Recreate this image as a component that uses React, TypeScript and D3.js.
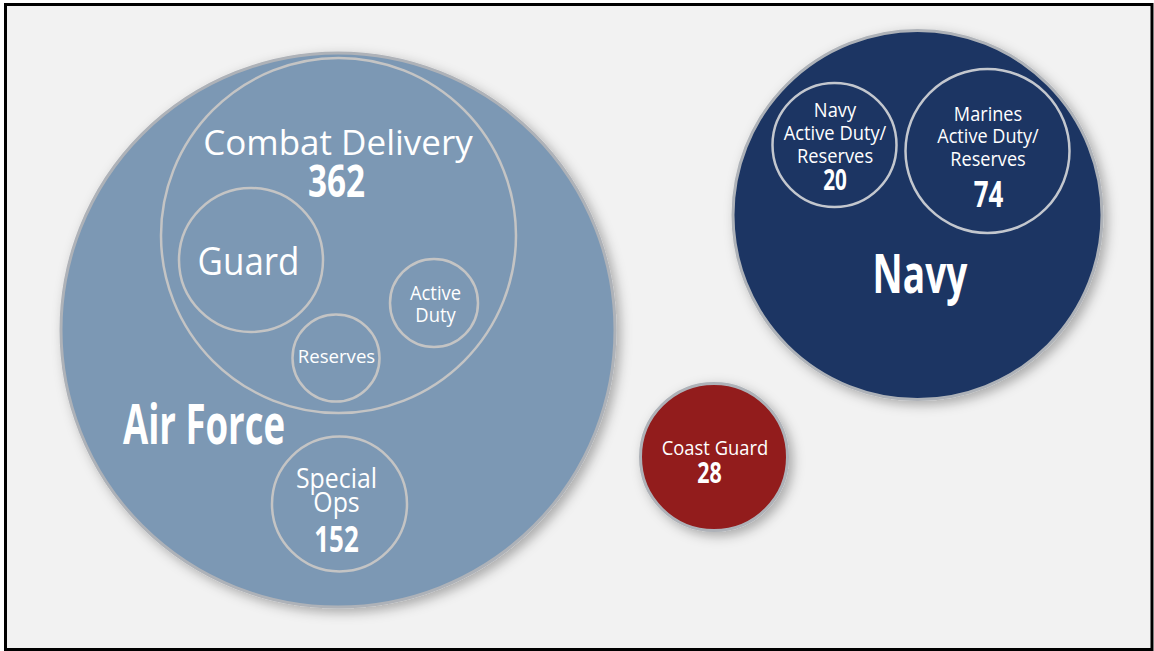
import React from 'react'
import * as d3 from 'd3'

// nodes of the graphic (parents come before their children)
const nodeNames = ['Air Force', 'Combat Delivery', 'Guard', 'Active Duty', 'Reserves', 'Special Ops',
  'Navy', 'Navy Active Duty/Reserves', 'Marines Active Duty/Reserves', 'Coast Guard']
const nodeParents = [null, 'Air Force', 'Combat Delivery', 'Combat Delivery', 'Combat Delivery', 'Air Force',
  null, 'Navy', 'Navy', null]
const nodeValues = [null, 362, null, null, null, 152, null, 20, 74, 28]
const nodeLines = [['Air Force'], ['Combat Delivery'], ['Guard'], ['Active', 'Duty'], ['Reserves'], ['Special', 'Ops'],
  ['Navy'], ['Navy', 'Active Duty/', 'Reserves'], ['Marines', 'Active Duty/', 'Reserves'], ['Coast Guard']]
const nodeBoldLabel = [true, false, false, false, false, false, true, false, false, false]

const serviceNames = ['Air Force', 'Navy', 'Coast Guard']
const serviceColors = ['#7c98b4', '#1b3563', '#921c1d']

// layout, in units of the original 1154 x 651 artwork
const circleX = [338, 338.5, 251, 434, 336, 339.5, 917.5, 834.5, 987.5, 714]
const circleY = [330, 235.5, 260, 303, 358, 504, 215, 145, 151, 457]
const circleR = [277, 177.5, 72, 44, 43.5, 67.5, 184.5, 62, 82, 73.5]
const labelX = [204, 338, 248.5, 435.5, 336.5, 336.5, 920, 835, 988, 715]
const labelY = [444, 155, 275, 300, 363, 488, 293, 117, 121, 455]
const labelSize = [55, 34, 38, 20, 19, 27, 53, 19.5, 19.5, 20]
const labelStretch = [0.665, 1.03, 0.92, 0.92, 0.98, 0.92, 0.7, 0.94, 0.93, 0.92]
const labelLead = [0, 0, 0, 22, 0, 24, 0, 23, 22.5, 0]
const valueX = [0, 336.5, 0, 0, 0, 336.5, 0, 835, 988.5, 709.5]
const valueY = [0, 197, 0, 0, 0, 552, 0, 190, 207, 483]
const valueSize = [0, 45, 0, 0, 0, 35, 0, 28, 35, 29]

const W = 1154
const H = 651
const FONT = "'Open Sans', 'Noto Sans', sans-serif"

const App = () => {
  let s = d3.scaleLinear().domain([0, 1154]).range([0, W])
  let color = d3.scaleOrdinal<string, string>().domain(serviceNames).range(serviceColors)

  let nodes = nodeNames.map((name, i) => ({
    name, i,
    parent: nodeParents[i],
    value: nodeValues[i],
    lines: nodeLines[i],
  }))

  return (
    <div style={{ position: 'absolute', left: 0, top: 0 }}>
      <svg width={W} height={H} style={{ display: 'block', background: '#fff' }}>
        <defs>
          <filter id="shadow" x="-20%" y="-20%" width="140%" height="140%">
            <feDropShadow dx="4" dy="4" stdDeviation="6" floodColor="#000" floodOpacity="0.3" />
          </filter>
        </defs>
        <rect x={5.5} y={4.5} width={1146.5} height={645} fill="#f2f2f2" stroke="#000" strokeWidth={3} />

        {nodes.map(d => {
          let top = d.parent === null
          let onNavy = d.parent === 'Navy'
          return (
            <circle key={'c' + d.i}
              cx={s(circleX[d.i])} cy={s(circleY[d.i])} r={s(circleR[d.i])}
              fill={top ? color(d.name) : 'none'}
              stroke={top ? '#aeb2b8' : (onNavy ? '#c3c7ce' : '#c4c4c4')}
              strokeWidth={top ? 3 : 2.5}
              filter={top ? 'url(#shadow)' : undefined} />
          )
        })}

        {nodes.map(d => {
          let bold = nodeBoldLabel[d.i]
          return (
            <g key={'t' + d.i} fill="#fff" fontFamily={FONT} textAnchor="middle">
              <text
                transform={`translate(${s(labelX[d.i])},${s(labelY[d.i])}) scale(${labelStretch[d.i]},1)`}
                fontSize={s(labelSize[d.i])} fontWeight={bold ? 700 : 400}>
                {d.lines.map((line, j) => (
                  <tspan key={j} x={0} y={s(j * labelLead[d.i])}>{line}</tspan>
                ))}
              </text>
              {d.value !== null &&
                <text transform={`translate(${s(valueX[d.i])},${s(valueY[d.i])}) scale(0.74,1)`}
                  fontSize={s(valueSize[d.i])} fontWeight={700}>{d.value}</text>}
            </g>
          )
        })}
      </svg>
    </div>
  )
}

export default App
